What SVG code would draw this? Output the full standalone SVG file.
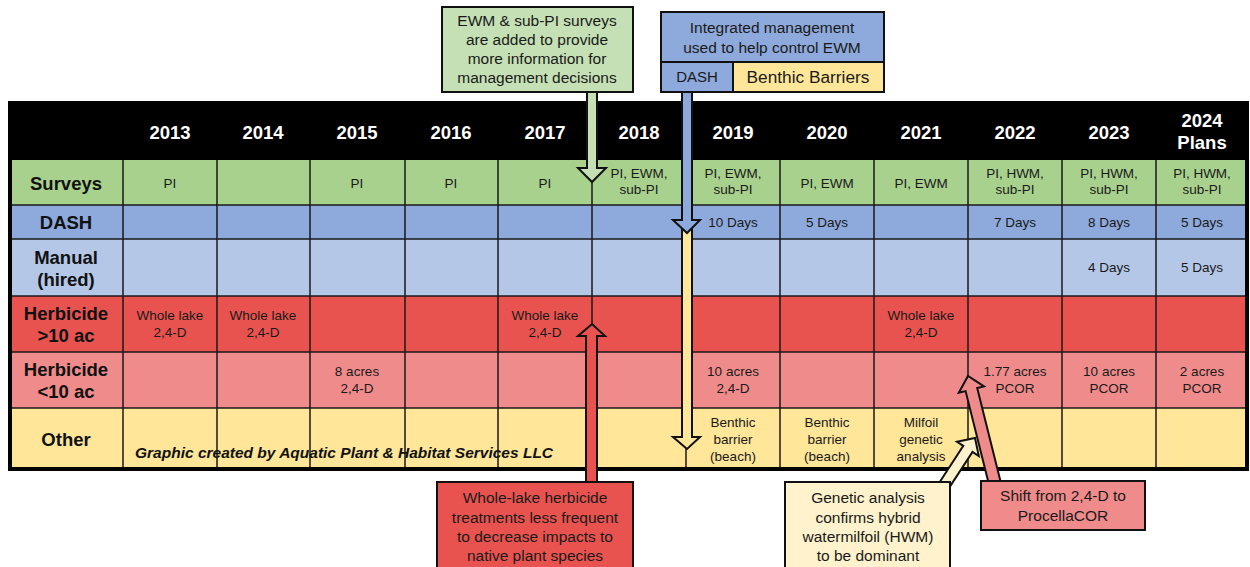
<svg xmlns="http://www.w3.org/2000/svg" width="1250" height="567" viewBox="0 0 1250 567">
<style>
text{font-family:"Liberation Sans",Arial,sans-serif;text-anchor:middle;fill:#1a1a1a}
.yr{font-size:18.5px;font-weight:bold;fill:#fff}
.lb{font-size:18.5px;font-weight:bold;fill:#111}
.c{font-size:13.5px}
.co{font-size:15.5px}
.grid{stroke:#1a1a1a;stroke-width:1.5;fill:none}
.box{stroke:#111;stroke-width:2}
.arr{stroke:#111;stroke-width:2;stroke-linejoin:miter}
</style>
<rect width="1250" height="567" fill="#fff"/>
<g id="table">
<rect x="8" y="101" width="1241" height="59" fill="#000"/>
<rect x="10" y="160" width="1238" height="45" fill="#A9D18E"/>
<rect x="10" y="205" width="1238" height="34" fill="#8EA9DB"/>
<rect x="10" y="239" width="1238" height="57" fill="#B4C7E7"/>
<rect x="10" y="296" width="1238" height="56" fill="#E8534F"/>
<rect x="10" y="352" width="1238" height="56" fill="#EF8B8B"/>
<rect x="10" y="408" width="1238" height="60" fill="#FFE699"/>
<g class="grid">
<path d="M10 205H1248M10 239H1248M10 296H1248M10 352H1248M10 408H1248"/>
<path d="M123 160V468M217 160V468M310 160V468M405 160V468M498 160V468M592 160V468M686 160V468M780 160V468M874 160V468M968 160V468M1062 160V468M1156 160V468"/>
</g>
<rect x="10" y="103" width="1237" height="366" fill="none" stroke="#000" stroke-width="4"/>
<g id="header">
<text class="yr" x="170" y="139">2013</text>
<text class="yr" x="263" y="139">2014</text>
<text class="yr" x="357" y="139">2015</text>
<text class="yr" x="451" y="139">2016</text>
<text class="yr" x="545" y="139">2017</text>
<text class="yr" x="639" y="139">2018</text>
<text class="yr" x="733" y="139">2019</text>
<text class="yr" x="827" y="139">2020</text>
<text class="yr" x="921" y="139">2021</text>
<text class="yr" x="1015" y="139">2022</text>
<text class="yr" x="1109" y="139">2023</text>
<text class="yr" x="1202" y="127">2024</text>
<text class="yr" x="1202" y="149">Plans</text>
</g>
<g id="row-labels">
<text class="lb" x="66" y="190">Surveys</text>
<text class="lb" x="66" y="229">DASH</text>
<text class="lb" x="66" y="264">Manual</text>
<text class="lb" x="66" y="286">(hired)</text>
<text class="lb" x="66" y="320">Herbicide</text>
<text class="lb" x="66" y="342">&gt;10 ac</text>
<text class="lb" x="66" y="376">Herbicide</text>
<text class="lb" x="66" y="398">&lt;10 ac</text>
<text class="lb" x="66" y="446">Other</text>
</g>
<g id="surveys-row">
<text class="c" x="170" y="188">PI</text>
<text class="c" x="357" y="188">PI</text>
<text class="c" x="451" y="188">PI</text>
<text class="c" x="545" y="188">PI</text>
<text class="c" x="639" y="178">PI, EWM,</text><text class="c" x="639" y="194">sub-PI</text>
<text class="c" x="733" y="178">PI, EWM,</text><text class="c" x="733" y="194">sub-PI</text>
<text class="c" x="827" y="188">PI, EWM</text>
<text class="c" x="921" y="188">PI, EWM</text>
<text class="c" x="1015" y="178">PI, HWM,</text><text class="c" x="1015" y="194">sub-PI</text>
<text class="c" x="1109" y="178">PI, HWM,</text><text class="c" x="1109" y="194">sub-PI</text>
<text class="c" x="1202" y="178">PI, HWM,</text><text class="c" x="1202" y="194">sub-PI</text>
</g>
<g id="dash-row">
<text class="c" x="733" y="227">10 Days</text>
<text class="c" x="827" y="227">5 Days</text>
<text class="c" x="1015" y="227">7 Days</text>
<text class="c" x="1109" y="227">8 Days</text>
<text class="c" x="1202" y="227">5 Days</text>
</g>
<g id="manual-row">
<text class="c" x="1109" y="272">4 Days</text>
<text class="c" x="1202" y="272">5 Days</text>
</g>
<g id="herb-large-row">
<text class="c" x="170" y="320">Whole lake</text><text class="c" x="170" y="337">2,4-D</text>
<text class="c" x="263" y="320">Whole lake</text><text class="c" x="263" y="337">2,4-D</text>
<text class="c" x="545" y="320">Whole lake</text><text class="c" x="545" y="337">2,4-D</text>
<text class="c" x="921" y="320">Whole lake</text><text class="c" x="921" y="337">2,4-D</text>
</g>
<g id="herb-small-row">
<text class="c" x="357" y="376">8 acres</text><text class="c" x="357" y="393">2,4-D</text>
<text class="c" x="733" y="376">10 acres</text><text class="c" x="733" y="393">2,4-D</text>
<text class="c" x="1015" y="376">1.77 acres</text><text class="c" x="1015" y="393">PCOR</text>
<text class="c" x="1109" y="376">10 acres</text><text class="c" x="1109" y="393">PCOR</text>
<text class="c" x="1202" y="376">2 acres</text><text class="c" x="1202" y="393">PCOR</text>
</g>
<g id="other-row">
<text class="c" x="733" y="427">Benthic</text><text class="c" x="733" y="444">barrier</text><text class="c" x="733" y="461">(beach)</text>
<text class="c" x="827" y="427">Benthic</text><text class="c" x="827" y="444">barrier</text><text class="c" x="827" y="461">(beach)</text>
<text class="c" x="921" y="427">Milfoil</text><text class="c" x="921" y="444">genetic</text><text class="c" x="921" y="461">analysis</text>
<text x="135" y="458" style="font-size:15.5px;font-weight:bold;font-style:italic;text-anchor:start;fill:#111">Graphic created by Aquatic Plant &amp; Habitat Services LLC</text>
</g>
</g>
<g id="connectors">
<polygon class="arr" fill="#C5E0B4" points="587,92 597,92 597,168 606,168 592,182 578,168 587,168"/>
<polygon class="arr" fill="#FFE699" points="682,225 692,225 692,437 700,437 687,449 673,437 682,437"/>
<polygon class="arr" fill="#8EA9DB" points="682,92 692,92 692,220 700,220 687,233 673,220 682,220"/>
<polygon class="arr" fill="#E8534F" points="586,484 597,484 597,336 605,336 592,324 578,336 586,336"/>
<polygon class="arr" fill="#FFF2CC" points="940.4,481 963.3,445.9 957,441.8 975,438 978.8,456 972.5,451.9 949.6,487"/>
<polygon class="arr" fill="#EF8B8B" points="989.2,485.5 965.6,391.1 958.8,392.8 968,376 984,386.4 977.2,388.1 1000.8,482.5"/>
</g>
<g id="callout-surveys">
<rect class="box" x="442" y="7" width="191" height="85" fill="#C5E0B4"/>
<text class="co" x="537" y="26">EWM &amp; sub-PI surveys</text>
<text class="co" x="537" y="45">are added to provide</text>
<text class="co" x="537" y="64">more information for</text>
<text class="co" x="537" y="83">management decisions</text>
</g>
<g id="callout-integrated">
<rect class="box" x="661" y="12" width="223" height="50" fill="#8EA9DB"/>
<text class="co" x="772" y="33">Integrated management</text>
<text class="co" x="772" y="53">used to help control EWM</text>
<rect class="box" x="661" y="62" width="72" height="30" fill="#8EA9DB"/>
<text x="697" y="82" style="font-size:15px">DASH</text>
<rect class="box" x="733" y="62" width="151" height="30" fill="#FFE699"/>
<text x="808" y="83" style="font-size:17.3px">Benthic Barriers</text>
</g>
<g id="callout-wholelake">
<rect class="box" x="437" y="482" width="196" height="90" fill="#E8534F"/>
<text class="co" x="535" y="503">Whole-lake herbicide</text>
<text class="co" x="535" y="523">treatments less frequent</text>
<text class="co" x="535" y="542">to decrease impacts to</text>
<text class="co" x="535" y="561">native plant species</text>
</g>
<g id="callout-genetic">
<rect class="box" x="785" y="482" width="165" height="90" fill="#FFF2CC"/>
<text class="co" x="868" y="503">Genetic analysis</text>
<text class="co" x="868" y="523">confirms hybrid</text>
<text class="co" x="868" y="542">watermilfoil (HWM)</text>
<text class="co" x="868" y="561">to be dominant</text>
</g>
<g id="callout-shift">
<rect class="box" x="981" y="481" width="164" height="49" fill="#EF8B8B"/>
<text class="co" x="1063" y="501">Shift from 2,4-D to</text>
<text class="co" x="1063" y="521">ProcellaCOR</text>
</g>
</svg>
